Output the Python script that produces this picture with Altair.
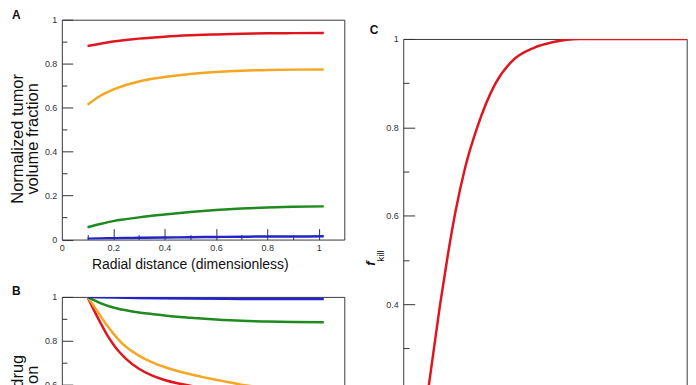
import altair as alt
import pandas as pd

FONT = "Liberation Sans"
series = ["red", "orange", "green", "blue"]
colors = ["#e0161e", "#f5a623", "#1f8a1f", "#2323c8"]

# ---- Panel A : normalized tumor volume fraction vs radial distance
a_x = [0.1, 0.15, 0.2, 0.25, 0.3, 0.4, 0.5, 0.6, 0.7, 0.8, 0.9, 1.02]
a_red = [0.880, 0.891, 0.901, 0.908, 0.914, 0.923, 0.929, 0.933, 0.936, 0.938, 0.939, 0.940]
a_orange = [0.613, 0.654, 0.682, 0.703, 0.719, 0.739, 0.753, 0.762, 0.768, 0.771, 0.773, 0.774]
a_green = [0.056, 0.071, 0.084, 0.093, 0.101, 0.114, 0.125, 0.134, 0.141, 0.146, 0.149, 0.151]
a_blue = [0.004, 0.005, 0.006, 0.007, 0.008, 0.009, 0.011, 0.012, 0.013, 0.014, 0.014, 0.015]

# ---- Panel B : normalized drug concentration vs radial distance
b_red_x = [0.1, 0.125, 0.15, 0.175, 0.2, 0.225, 0.25, 0.3, 0.35, 0.4, 0.45, 0.5, 0.55]
b_red = [1.0, 0.940, 0.883, 0.830, 0.785, 0.748, 0.718, 0.673, 0.643, 0.622, 0.607, 0.596, 0.587]
b_orange_x = [0.1, 0.125, 0.15, 0.175, 0.2, 0.225, 0.25, 0.3, 0.35, 0.4, 0.45, 0.5, 0.55,
              0.6, 0.65, 0.7, 0.75]
b_orange = [1.0, 0.958, 0.914, 0.872, 0.834, 0.800, 0.773, 0.733, 0.703, 0.681, 0.663,
            0.648, 0.635, 0.623, 0.612, 0.601, 0.592]
b_green_x = [0.1, 0.125, 0.15, 0.2, 0.25, 0.3, 0.35, 0.4, 0.5, 0.6, 0.7, 0.8, 0.9, 1.02]
b_green = [1.0, 0.985, 0.972, 0.952, 0.939, 0.929, 0.922, 0.915, 0.905, 0.897, 0.891, 0.888, 0.886, 0.885]
b_blue_x = [0.1, 0.2, 0.3, 0.5, 0.7, 0.9, 1.02]
b_blue = [1.0, 0.997, 0.995, 0.993, 0.991, 0.990, 0.990]

# ---- Panel C : f_kill
c_x = [0.087, 0.0915, 0.129, 0.157, 0.183, 0.218, 0.261, 0.326, 0.384, 0.461, 0.53, 0.619, 0.8, 1.0]
c_y = [0.20, 0.222, 0.395, 0.51, 0.605, 0.708, 0.80, 0.90, 0.95, 0.98, 0.993, 1.0, 1.0, 1.0]

ticks_major = [0.2, 0.4, 0.6, 0.8, 1.0]
ticks_minor = [0.1, 0.3, 0.5, 0.7, 0.9]
y_major = [0.0, 0.2, 0.4, 0.6, 0.8, 1.0]

FRAME = "#3a3a3a"


def long_df(pairs):
    rows = []
    for name, xs, ys in pairs:
        for xv, yv in zip(xs, ys):
            rows.append({"series": name, "x": xv, "y": yv})
    return pd.DataFrame(rows)


df_a = long_df([("red", a_x, a_red), ("orange", a_x, a_orange),
                ("green", a_x, a_green), ("blue", a_x, a_blue)])
df_b = long_df([("red", b_red_x, b_red), ("orange", b_orange_x, b_orange),
                ("green", b_green_x, b_green), ("blue", b_blue_x, b_blue)])
df_c = pd.DataFrame({"series": "red", "x": c_x, "y": c_y})

color = alt.Color("series:N", scale=alt.Scale(domain=series, range=colors), legend=None)


def tick_axis(values, size, orient, **extra):
    kw = dict(values=values, orient=orient, ticks=True, tickSize=size, offset=-size,
              labels=False, domain=False, grid=False, tickColor="#333", tickWidth=1)
    if "title" not in extra:
        kw["title"] = None
    kw.update(extra)
    return alt.Axis(**kw)


def panel(df, xdom, ydom, w, h, x_axis, y_axis, xt_major, xt_minor, yt_major,
          yt_minor, major_len, minor_len, title, y_major_title=None, y_minor_title=None):
    xs = alt.Scale(domain=xdom, nice=False, zero=False)
    ys = alt.Scale(domain=ydom, nice=False, zero=False)
    lines = alt.Chart(df).mark_line(strokeWidth=2.5, clip=True, interpolate="monotone").encode(
        x=alt.X("x:Q", scale=xs, axis=x_axis),
        y=alt.Y("y:Q", scale=ys, axis=y_axis),
        color=color,
    )
    major = alt.Chart(df).mark_line(opacity=0).encode(
        x=alt.X("x:Q", scale=xs,
                axis=tick_axis(xt_major, major_len, "bottom") if xt_major else None),
        y=alt.Y("y:Q", scale=ys,
                axis=tick_axis(yt_major, major_len, "left", **(y_major_title or {}))),
        color=color,
    )
    minor = alt.Chart(df).mark_line(opacity=0).encode(
        x=alt.X("x:Q", scale=xs,
                axis=tick_axis(xt_minor, minor_len, "bottom") if xt_minor else None),
        y=alt.Y("y:Q", scale=ys,
                axis=tick_axis(yt_minor, minor_len, "left", **(y_minor_title or {}))),
        color=color,
    )
    return alt.layer(lines, major, minor).resolve_axis(
        x="independent", y="independent").properties(width=w, height=h, title=title)


def label_title(text, dx, offset=-6.7):
    return alt.TitleParams(text=text, anchor="start", frame="group", dx=dx, fontSize=12,
                           fontWeight="bold", font=FONT, offset=offset, color="#111")


def y_label_axis(values, title, title_y):
    return alt.Axis(values=values, orient="left", format="~g", ticks=False, domain=False,
                    grid=False, labelFontSize=9, labelPadding=5, labelFlush=False,
                    labelColor="#333", title=title, titleFontSize=16.5,
                    titleFontWeight="normal", titleLineHeight=15, titleAngle=270,
                    titleAlign="center", titleBaseline="alphabetic", titleX=-39.7,
                    titleY=title_y, titleColor="#111")


x_axis_a = alt.Axis(values=[0, 0.2, 0.4, 0.6, 0.8, 1.0], orient="bottom", format="~g",
                    ticks=False, domain=False, grid=False, labelFontSize=9, labelPadding=4,
                    labelFlush=False, labelColor="#333",
                    title="Radial distance (dimensionless)", titleFontSize=14,
                    titleFontWeight="normal", titleAlign="center",
                    titleBaseline="alphabetic", titleX=128.3, titleY=29, titleColor="#111")

W = 283.3
H = 220.5

chart_a = panel(df_a, [0, 1.1], [0, 1], W, H, x_axis_a,
                y_label_axis(y_major, ["Normalized tumor", "volume fraction"], 119),
                ticks_major, ticks_minor, y_major, ticks_minor, 11, 5,
                label_title("A", -50))

chart_b = panel(df_b, [0, 1.1], [0, 1], W, H, None,
                y_label_axis([0.6, 0.8, 1.0], ["Normalized drug", "concentration"], 118),
                None, None, y_major, ticks_minor, 11, 5,
                label_title("B", -50, offset=-4.7))

c_label_axis = alt.Axis(values=[0.4, 0.6, 0.8, 1.0], orient="left", format="~g",
                        ticks=False, domain=False, grid=False, labelFontSize=9,
                        labelPadding=5, labelFlush=False, labelColor="#333", title=None)

chart_c = panel(df_c, [0, 1], [0, 1], 284.3, 443.3, None, c_label_axis,
                None, None, y_major, ticks_minor, 11.5, 5.7,
                label_title("C", -33.7, offset=-2.2),
                y_major_title=dict(title="f", titleFontSize=13, titleFontStyle="italic",
                                   titleFontWeight="bold", titleAngle=270,
                                   titleAlign="center", titleBaseline="alphabetic",
                                   titleX=-40.2, titleY=224.7, titleColor="#111"),
                y_minor_title=dict(title="kill", titleFontSize=10, titleFontWeight="normal",
                                   titleAngle=270, titleAlign="center",
                                   titleBaseline="alphabetic", titleX=-25.4,
                                   titleY=217.2, titleColor="#111"))

# empty spacer that drops panel C below the top of panel A
spacer = alt.Chart(pd.DataFrame({"v": [0]})).mark_rule(opacity=0).encode(
    x=alt.value(0), y=alt.value(0), y2=alt.value(1)
).properties(width=1, height=1, view=alt.ViewBackground(stroke=None))

chart = alt.hconcat(
    alt.vconcat(chart_a, chart_b, spacing=12),
    alt.vconcat(spacer, chart_c, spacing=2.3),
    spacing=18.4,
).configure_view(stroke=FRAME, strokeWidth=1).configure_axis(
    labelFont=FONT, titleFont=FONT
).configure_title(font=FONT).properties(padding=0)

chart.save("out.html", embed_options={"renderer": "svg", "actions": False})
